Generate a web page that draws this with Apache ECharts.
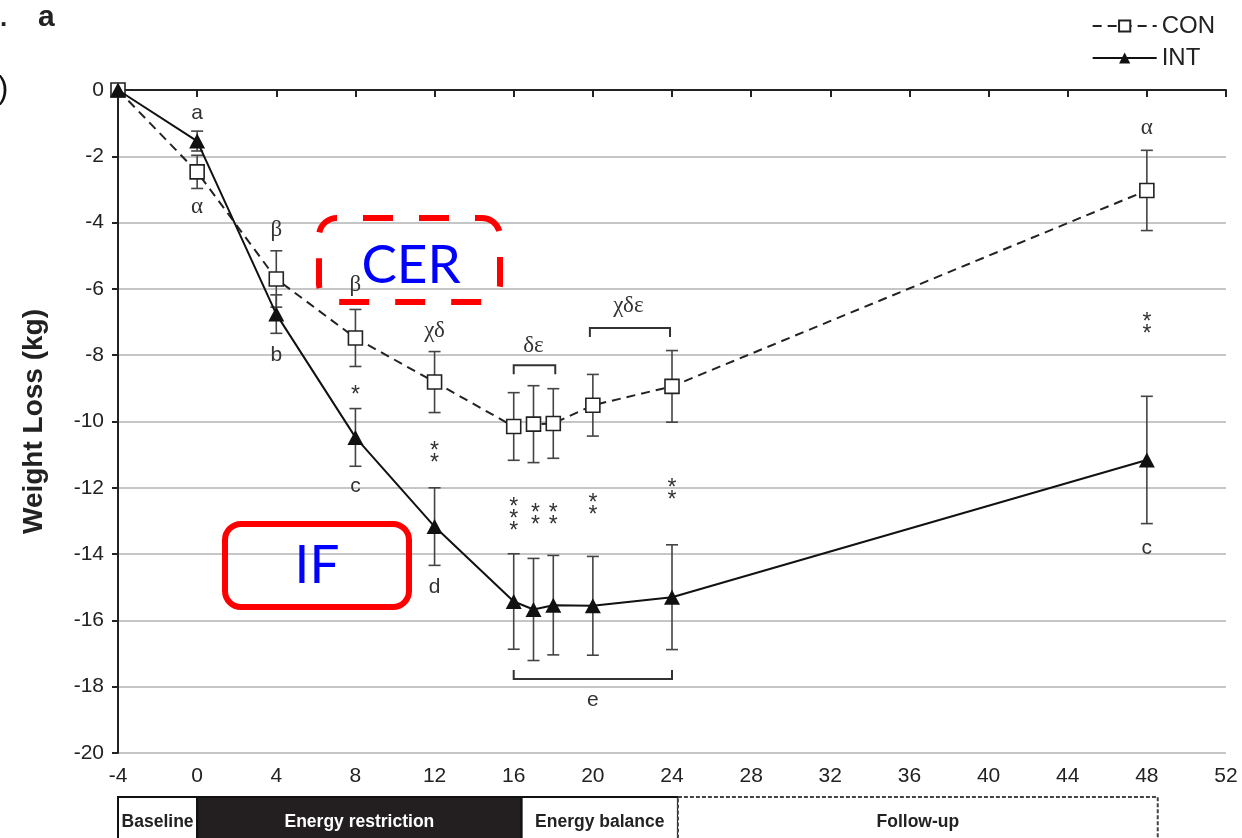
<!DOCTYPE html>
<html>
<head>
<meta charset="utf-8">
<script src="https://cdn.jsdelivr.net/npm/echarts@6/dist/echarts.min.js"></script>
<style>
  html, body { margin: 0; padding: 0; background: #fff; }
  #chart { width: 1242px; height: 838px; }
</style>
</head>
<body>
<div id="chart"></div>
<script>
// Study weeks and weight change (kg), mean and SD per group
const weeks   = [-4, 0, 4, 8, 12, 16, 17, 18, 20, 24, 48];
const conMean = [0, -2.47, -5.70, -7.48, -8.81, -10.15, -10.08, -10.06, -9.51, -8.94, -3.03];
const conSd   = [0, 0.50, 0.85, 0.86, 0.92, 1.02, 1.16, 1.05, 0.93, 1.08, 1.21];
const intMean = [0, -1.54, -6.76, -10.48, -13.17, -15.43, -15.67, -15.54, -15.56, -15.30, -11.16];
const intSd   = [0, 0.30, 0.58, 0.87, 1.17, 1.44, 1.54, 1.50, 1.49, 1.58, 1.92];

// Axis ranges
const xMin = -4, xMax = 52, xStep = 4;
const yMin = -20, yMax = 0, yStep = 2;

// Significance annotations: week, weight level, text
const annoX    = [0, 0, 4, 4, 8, 8, 8, 12, 12, 12, 17, 21.8, 16, 17.1, 18, 20, 24, 48, 48, 48, 20];
const annoY    = [-0.69, -3.53, -4.22, -7.99, -5.88, -9.05, -11.95, -7.27, -10.92, -14.99, -7.72, -6.52, -12.78, -12.79, -12.79, -12.48, -12.04, -1.15, -7.01, -13.82, -18.40];
const annoText = ['a', 'α', 'β', 'b', 'β', '*', 'c', 'χδ', '**', 'd', 'δε', 'χδε', '***', '**', '**', '**', '**', 'α', '**', 'c', 'e'];

// Brackets grouping time points: from week, to week, level, tick direction
const bracketFrom = [16, 19.85, 16];
const bracketTo   = [18.1, 23.9, 24];
const bracketY    = [-8.30, -7.18, -17.77];
const bracketDir  = [1, 1, -1];

// Study phases along the time axis
const phaseNames = ['Baseline', 'Energy restriction', 'Energy balance', 'Follow-up'];
const phaseStart = [-4, 0, 16.4, 24.3];
const phaseEnd   = [0, 16.4, 24.3, 48.55];

const SANS = '"Liberation Sans", Arial, sans-serif';
const SERIF = '"Liberation Serif", "Times New Roman", serif';
const CALLOUT = 'Lato, Roboto, sans-serif';
const INK = '#222';

function errorData(mean, sd) {
  const out = [];
  weeks.forEach((w, i) => { if (sd[i] > 0) out.push([w, mean[i] - sd[i], mean[i] + sd[i]]); });
  return out;
}

function renderErrorBar(params, api) {
  const x = api.value(0);
  const top = api.coord([x, api.value(2)]);
  const bot = api.coord([x, api.value(1)]);
  const cap = 6;
  const style = { stroke: '#444', lineWidth: 1.6 };
  return {
    type: 'group',
    children: [
      { type: 'line', shape: { x1: top[0], y1: top[1], x2: bot[0], y2: bot[1] }, style },
      { type: 'line', shape: { x1: top[0] - cap, y1: top[1], x2: top[0] + cap, y2: top[1] }, style },
      { type: 'line', shape: { x1: bot[0] - cap, y1: bot[1], x2: bot[0] + cap, y2: bot[1] }, style }
    ]
  };
}

function renderAnnotation(params, api) {
  const i = api.value(2);
  const text = annoText[i];
  const p = api.coord([api.value(0), api.value(1)]);
  const greek = /[α-ω]/.test(text);
  const stars = /^\*+$/.test(text);
  if (stars) {
    return {
      type: 'text', x: p[0], y: p[1] + 6,
      style: { text: text.split('').join('\n'), fontFamily: SANS, fontSize: 23, lineHeight: 12, fill: '#333', align: 'center', verticalAlign: 'middle' }
    };
  }
  return {
    type: 'text', x: p[0], y: p[1],
    style: {
      text,
      fontFamily: greek ? SERIF : SANS,
      fontSize: greek ? 23 : 21,
      fill: '#333',
      align: 'center',
      verticalAlign: 'middle'
    }
  };
}

function renderBracket(params, api) {
  const y = api.value(2);
  const a = api.coord([api.value(0), y]);
  const b = api.coord([api.value(1), y]);
  const d = api.value(3) * 9;
  return {
    type: 'polyline',
    shape: { points: [[a[0], a[1] + d], [a[0], a[1]], [b[0], b[1]], [b[0], b[1] + d]] },
    style: { stroke: '#333', lineWidth: 2, fill: 'none' }
  };
}

function renderPhase(params, api) {
  const i = api.value(2);
  const a = api.coord([api.value(0), yMin]);
  const b = api.coord([api.value(1), yMin]);
  const top = a[1] + 44;
  const h = 60;
  const dark = i === 1;
  const open = i === phaseNames.length - 1;
  return {
    type: 'group',
    children: [
      {
        type: 'rect',
        shape: { x: a[0], y: top, width: b[0] - a[0], height: h },
        style: open
          ? { fill: '#fff', stroke: '#444', lineWidth: 2, lineDash: [4, 2] }
          : { fill: dark ? '#231f20' : '#fff', stroke: '#111', lineWidth: 2 }
      },
      {
        type: 'text',
        x: (a[0] + b[0]) / 2,
        y: top + 25,
        style: {
          text: phaseNames[i],
          fontFamily: SANS,
          fontWeight: 'bold',
          fontSize: 17.5,
          fill: dark ? '#fff' : '#222',
          align: 'center',
          verticalAlign: 'middle'
        }
      }
    ]
  };
}

const chart = echarts.init(document.getElementById('chart'));

chart.setOption({
  animation: false,
  backgroundColor: '#fff',
  grid: { left: 118, right: 16, top: 90, bottom: 85 },
  legend: {
    data: ['CON', 'INT'],
    orient: 'vertical',
    right: 22,
    top: 8,
    itemWidth: 64,
    itemHeight: 14,
    itemGap: 6,
    textStyle: { fontFamily: SANS, fontSize: 24, lineHeight: 26, color: INK }
  },
  xAxis: [
    {
      type: 'value', min: xMin, max: xMax, interval: xStep, position: 'bottom',
      axisLine: { show: false, onZero: false },
      axisTick: { show: false },
      splitLine: { show: false },
      axisLabel: { fontFamily: SANS, fontSize: 21, color: INK, margin: 13 }
    },
    {
      type: 'value', min: xMin, max: xMax, interval: xStep, position: 'top',
      axisLine: { show: true, onZero: false, lineStyle: { color: INK, width: 2 } },
      axisTick: { show: true, inside: true, length: 7, lineStyle: { color: INK, width: 2 } },
      splitLine: { show: false },
      axisLabel: { show: false }
    }
  ],
  yAxis: {
    type: 'value', min: yMin, max: yMax, interval: yStep,
    name: 'Weight Loss (kg)',
    nameLocation: 'middle',
    nameGap: 70,
    nameTextStyle: { fontFamily: SANS, fontSize: 28, fontWeight: 'bold', color: INK },
    axisLine: { show: true, onZero: false, lineStyle: { color: INK, width: 2 } },
    axisTick: { show: true, length: 6, lineStyle: { color: INK, width: 2 } },
    splitLine: { show: true, lineStyle: { color: '#c6c6c6', width: 2 } },
    axisLabel: { fontFamily: SANS, fontSize: 21, color: INK, margin: 14 }
  },
  series: [
    {
      type: 'custom', name: 'CON SD', renderItem: renderErrorBar,
      data: errorData(conMean, conSd), z: 2, silent: true
    },
    {
      type: 'custom', name: 'INT SD', renderItem: renderErrorBar,
      data: errorData(intMean, intSd), z: 2, silent: true
    },
    {
      name: 'CON', type: 'line',
      data: weeks.map((w, i) => [w, conMean[i]]),
      symbol: 'rect', symbolSize: 14, showAllSymbol: true,
      lineStyle: { color: INK, width: 2, type: [9, 6] },
      itemStyle: { color: '#fff', borderColor: INK, borderWidth: 1.6 },
      z: 4
    },
    {
      name: 'INT', type: 'line',
      data: weeks.map((w, i) => [w, intMean[i]]),
      symbol: 'triangle', symbolSize: [16, 15], showAllSymbol: true,
      lineStyle: { color: '#111', width: 2 },
      itemStyle: { color: '#111', borderColor: '#111', borderWidth: 0 },
      z: 5
    },
    {
      type: 'custom', name: 'labels', renderItem: renderAnnotation,
      data: annoX.map((x, i) => [x, annoY[i], i]), z: 6, silent: true
    },
    {
      type: 'custom', name: 'brackets', renderItem: renderBracket,
      data: bracketFrom.map((x, i) => [x, bracketTo[i], bracketY[i], bracketDir[i]]),
      encode: { x: [0, 1], y: 2 }, z: 6, silent: true
    },
    {
      type: 'custom', name: 'phases', renderItem: renderPhase, clip: false,
      data: phaseStart.map((x, i) => [x, phaseEnd[i], i]),
      encode: { x: [0, 1] }, z: 6, silent: true
    }
  ],
  graphic: [
    { type: 'text', x: 0, y: 6, style: { text: '.', fontFamily: SANS, fontSize: 26, fontWeight: 'bold', fill: '#222' } },
    { type: 'text', x: 38, y: 3, style: { text: 'a', fontFamily: SANS, fontSize: 30, fontWeight: 'bold', fill: '#222' } },
    { type: 'text', x: -2, y: 74, style: { text: ')', fontFamily: SANS, fontSize: 31, fill: '#111' } },
    {
      type: 'rect', z: 100,
      shape: { x: 319, y: 218, width: 181, height: 84, r: 18 },
      style: { fill: 'none', stroke: '#ff0000', lineWidth: 6, lineDash: [30, 26], lineDashOffset: 30 }
    },
    {
      type: 'text', z: 100, x: 411, y: 266,
      style: { text: 'CER', fontFamily: CALLOUT, fontSize: 53, fill: '#0000ff', align: 'center', verticalAlign: 'middle' }
    },
    {
      type: 'rect', z: 100,
      shape: { x: 225, y: 524, width: 184, height: 83, r: 16 },
      style: { fill: 'none', stroke: '#ff0000', lineWidth: 6 }
    },
    {
      type: 'text', z: 100, x: 317, y: 566,
      style: { text: 'IF', fontFamily: CALLOUT, fontSize: 53, fill: '#0000ff', align: 'center', verticalAlign: 'middle' }
    }
  ]
});
</script>
</body>
</html>
